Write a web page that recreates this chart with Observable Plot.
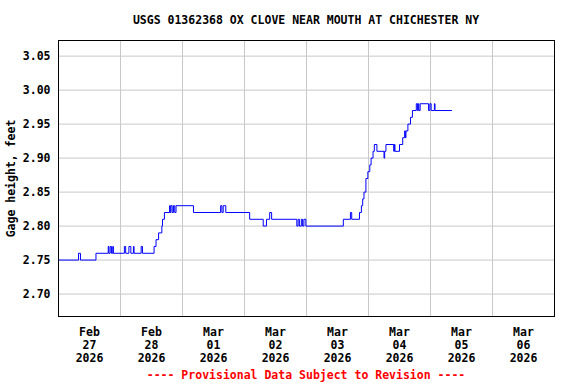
<!DOCTYPE html>
<html><head><meta charset="utf-8">
<script src="https://cdn.jsdelivr.net/npm/d3@7"></script>
<script src="https://cdn.jsdelivr.net/npm/@observablehq/plot@0.6"></script>
<style>
body{margin:0;background:#fff;width:576px;height:384px;overflow:hidden;position:relative;font-family:"DejaVu Sans Mono",monospace;font-weight:bold;}
#title{height:32px;box-sizing:border-box;padding:13px 0 0 36px;text-align:center;font-size:11.5px;line-height:14px;color:#000;}
#caption{position:absolute;left:0;top:368px;width:576px;box-sizing:border-box;padding-left:36px;text-align:center;color:#f00;font-size:11.5px;line-height:14px;}
svg{display:block}
</style></head><body>
<div id="title">USGS 01362368 OX CLOVE NEAR MOUTH AT CHICHESTER NY</div>
<div id="chart"></div>
<div id="caption">---- Provisional Data Subject to Revision ----</div>
<script>
const times = [
"2026-02-27 00:00","2026-02-27 07:45","2026-02-27 08:30","2026-02-27 14:30","2026-02-27 19:15","2026-02-27 19:30",
"2026-02-27 20:00","2026-02-27 20:30","2026-02-27 21:00","2026-02-27 21:15","2026-02-28 01:30","2026-02-28 02:00",
"2026-02-28 03:15","2026-02-28 04:00","2026-02-28 05:00","2026-02-28 05:15","2026-02-28 08:00","2026-02-28 08:30",
"2026-02-28 13:00","2026-02-28 13:45","2026-02-28 14:45","2026-02-28 16:00","2026-02-28 16:15","2026-02-28 17:00",
"2026-02-28 19:00","2026-02-28 19:15","2026-02-28 19:30","2026-02-28 20:00","2026-02-28 20:30","2026-02-28 21:00",
"2026-02-28 21:30","2026-03-01 04:15","2026-03-01 14:45","2026-03-01 15:15","2026-03-01 15:45","2026-03-01 16:45",
"2026-03-02 02:00","2026-03-02 07:15","2026-03-02 08:30","2026-03-02 09:45","2026-03-02 10:30","2026-03-02 20:15",
"2026-03-02 20:45","2026-03-02 21:15","2026-03-02 22:00","2026-03-02 22:30","2026-03-02 23:00","2026-03-02 23:45",
"2026-03-03 14:15","2026-03-03 17:00","2026-03-03 17:30","2026-03-03 20:30","2026-03-03 21:15","2026-03-03 21:45",
"2026-03-03 22:15","2026-03-03 23:00","2026-03-03 23:45","2026-03-04 00:30","2026-03-04 01:00","2026-03-04 01:45",
"2026-03-04 02:15","2026-03-04 03:15","2026-03-04 06:00","2026-03-04 06:15","2026-03-04 06:45","2026-03-04 09:45",
"2026-03-04 10:00","2026-03-04 10:15","2026-03-04 12:00","2026-03-04 13:15","2026-03-04 14:00","2026-03-04 14:15",
"2026-03-04 14:30","2026-03-04 15:15","2026-03-04 16:15","2026-03-04 17:00","2026-03-04 18:30","2026-03-04 19:00",
"2026-03-04 19:15","2026-03-04 19:30","2026-03-04 20:00","2026-03-04 23:15","2026-03-04 23:45","2026-03-05 00:15",
"2026-03-05 01:30","2026-03-05 01:45","2026-03-05 08:15"
];
const gageHeight = [
2.75,2.76,2.75,2.76,2.77,2.76,
2.77,2.76,2.77,2.76,2.77,2.76,
2.77,2.76,2.77,2.76,2.77,2.76,
2.77,2.78,2.79,2.80,2.81,2.82,
2.83,2.82,2.83,2.82,2.83,2.82,
2.83,2.82,2.83,2.82,2.83,2.82,
2.81,2.80,2.81,2.82,2.81,2.80,
2.81,2.80,2.81,2.80,2.81,2.80,
2.81,2.82,2.81,2.82,2.83,2.84,
2.85,2.87,2.88,2.89,2.90,2.91,
2.92,2.91,2.90,2.91,2.92,2.91,
2.92,2.91,2.92,2.93,2.94,2.93,
2.94,2.95,2.96,2.97,2.98,2.97,
2.98,2.97,2.98,2.97,2.98,2.97,
2.98,2.97,2.97
];
const yTicks = [2.70, 2.75, 2.80, 2.85, 2.90, 2.95, 3.00, 3.05];
const yDomain = [2.667, 3.073];
const xDomain = ["2026-02-27 00:00", "2026-03-07 00:00"];
const gridDays = ["2026-02-28 00:00","2026-03-01 00:00","2026-03-02 00:00","2026-03-03 00:00","2026-03-04 00:00","2026-03-05 00:00","2026-03-06 00:00"];
const labelDays = ["2026-02-27 12:00","2026-02-28 12:00","2026-03-01 12:00","2026-03-02 12:00","2026-03-03 12:00","2026-03-04 12:00","2026-03-05 12:00","2026-03-06 12:00"];

const parse = d3.utcParse("%Y-%m-%d %H:%M");
const data = times.map((t, i) => ({t: parse(t), v: gageHeight[i]}));

const font = '"DejaVu Sans Mono", monospace';
const chart = Plot.plot({
  width: 576,
  height: 340,
  marginTop: 8,
  marginBottom: 56,
  marginLeft: 58,
  marginRight: 22,
  style: {fontFamily: font, fontWeight: "bold", fontSize: "11.5px", color: "#000", background: "transparent"},
  x: {type: "utc", domain: xDomain.map(parse)},
  y: {domain: yDomain},
  marks: [
    Plot.gridY(yTicks, {stroke: "#c8c8c8", strokeOpacity: 1, strokeWidth: 1}),
    Plot.gridX(gridDays.map(parse), {stroke: "#c8c8c8", strokeOpacity: 1, strokeWidth: 1}),
    Plot.axisY(yTicks, {tickSize: 0, tickPadding: 8, tickFormat: d3.format(".2f"), label: "Gage height, feet", labelAnchor: "center", labelArrow: "none", labelOffset: 52, fill: "#000"}),
    Plot.axisX(labelDays.map(parse), {tickSize: 0, tickPadding: 10, tickFormat: d3.utcFormat("%b\n%d\n%Y"), lineHeight: 1.13, label: null, fill: "#000"}),
    Plot.line(data, {x: "t", y: "v", curve: "step-after", stroke: "#0000ff", strokeWidth: 1}),
    Plot.frame({stroke: "#000", strokeWidth: 1})
  ]
});
document.getElementById("chart").append(chart);
</script>
</body></html>
